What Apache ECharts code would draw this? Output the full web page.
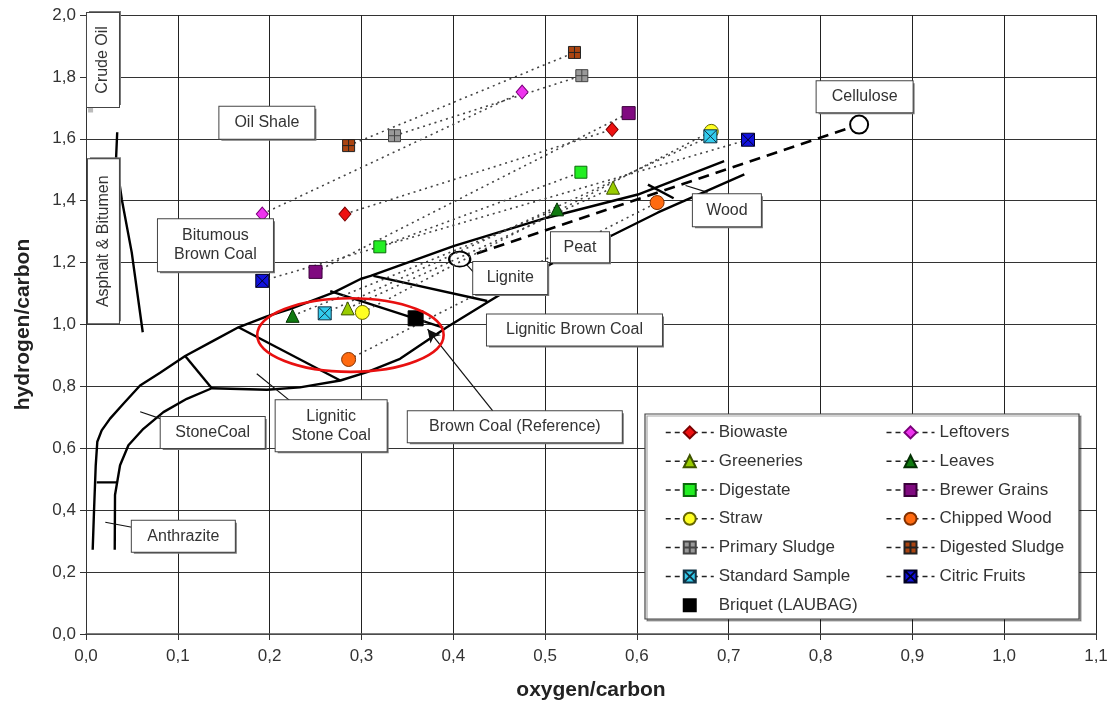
<!DOCTYPE html>
<html><head><meta charset="utf-8">
<script src="https://cdn.jsdelivr.net/npm/echarts@6/dist/echarts.min.js"></script>
<style>html,body{margin:0;padding:0;background:#fff}#c{width:1115px;height:706px}</style>
</head><body><div id="c"></div>
<script>
const FONT = '"Liberation Sans", Arial, sans-serif';

// ---------- tick labels ----------
const xTickLabels = ['0,0','0,1','0,2','0,3','0,4','0,5','0,6','0,7','0,8','0,9','1,0','1,1'];
const yTickLabels = ['0,0','0,2','0,4','0,6','0,8','1,0','1,2','1,4','1,6','1,8','2,0'];

// ---------- material series: [raw-like, treated] points (O/C, H/C) ----------
const seriesNames = ['Biowaste','Leftovers','Greeneries','Leaves','Digestate','Brewer Grains','Straw','Chipped Wood','Primary Sludge','Digested Sludge','Standard Sample','Citric Fruits','Briquet (LAUBAG)'];
const biowaste       = [[0.282,1.357],[0.573,1.630]];
const leftovers      = [[0.192,1.357],[0.475,1.751]];
const greeneries     = [[0.285,1.052],[0.574,1.442]];
const leaves         = [[0.225,1.028],[0.513,1.372]];
const digestate      = [[0.320,1.251],[0.539,1.492]];
const brewerGrains   = [[0.250,1.170],[0.591,1.683]];
const straw          = [[0.301,1.039],[0.681,1.624]];
const chippedWood    = [[0.286,0.887],[0.622,1.394]];
const primarySludge  = [[0.336,1.610],[0.540,1.804]];
const digestedSludge = [[0.286,1.578],[0.532,1.879]];
const standardSample = [[0.260,1.036],[0.680,1.608]];
const citricFruits   = [[0.192,1.141],[0.721,1.597]];
const briquet        = [[0.359,1.020]];

// ---------- reference fuels ----------
const ligniteCellulose = [[0.407,1.211],[0.842,1.646]];

// ---------- coalification band outlines ----------
const outerBoundary = [[0.0073,0.272],[0.0087,0.395],[0.0106,0.545],[0.0123,0.621],[0.0171,0.658],[0.0262,0.696],[0.0407,0.744],[0.0589,0.803],[0.0807,0.844],[0.108,0.898],[0.139,0.948],[0.166,0.991],[0.197,1.026],[0.222,1.050],[0.270,1.104],[0.299,1.147],[0.310,1.157],[0.401,1.254],[0.502,1.345],[0.601,1.420],[0.695,1.528]];
const innerBoundary = [[0.0313,0.272],[0.0316,0.449],[0.0371,0.545],[0.0462,0.610],[0.0625,0.663],[0.0843,0.717],[0.1098,0.760],[0.137,0.794],[0.197,0.789],[0.233,0.797],[0.277,0.819],[0.306,0.846],[0.342,0.889],[0.393,0.991],[0.440,1.077],[0.506,1.195],[0.571,1.285],[0.623,1.362],[0.717,1.485]];
const anthraciteBar = [[0.0117,0.490],[0.034,0.490]];
const stoneCoalDivider = [[0.108,0.898],[0.137,0.794]];
const ligniticStoneDivider = [[0.166,0.991],[0.277,0.819]];
const brownCoalDividerA = [[0.266,1.108],[0.389,0.990]];
const brownCoalDividerB = [[0.313,1.157],[0.437,1.076]];
const peatWoodDivider = [[0.612,1.452],[0.640,1.408]];
const asphaltLine = [[0.034,1.621],[0.0327,1.533],[0.039,1.404],[0.0498,1.233],[0.0618,0.975]];
const crudeOilBar = [[0.005,1.685],[0.005,2.0]];

// ---------- label leaders ----------
const leaders = [
  [[0.059,0.718],[0.081,0.696]],
  [[0.186,0.841],[0.222,0.754]],
  [[0.021,0.361],[0.050,0.345]],
  [[0.411,1.205],[0.422,1.169]],
  [[0.653,1.449],[0.677,1.427]]
];
const brownCoalArrow = [[0.443,0.721],[0.372,0.985]];

// ---------- annotation boxes ----------
const boxNames = ['Crude Oil','Asphalt & Bitumen','Oil Shale','Bitumous\nBrown Coal','Lignite','Peat','Wood','Cellulose','Lignitic Brown Coal','Brown Coal (Reference)','Lignitic\nStone Coal','StoneCoal','Anthrazite'];
const boxAnchors = [[0.0185,1.855],[0.019,1.269],[0.197,1.652],[0.141,1.256],[0.462,1.150],[0.538,1.250],[0.698,1.369],[0.848,1.736],[0.532,0.982],[0.467,0.670],[0.267,0.673],[0.138,0.651],[0.106,0.316]];

// ---------- styles ----------
const boxSizes = [[94,32],[164,31],[95,32],[115,52],[74,32],[58,30],[68,32],[96,31],[175,31],[214,31],[111,51],[104,31],[103,31]];
const boxRotate = [90,90,0,0,0,0,0,0,0,0,0,0,0];

const plusSq = 'path://M0,0H10V10H0Z M5,0V10 M0,5H10';
const crossSq = 'path://M0,0H10V10H0Z M0,0L10,10 M10,0L0,10';
const seriesData = [biowaste,leftovers,greeneries,leaves,digestate,brewerGrains,straw,chippedWood,primarySludge,digestedSludge,standardSample,citricFruits,briquet];
const seriesStyle = [
  {symbol:'diamond', size:[12,14], color:'#ee1111', border:'#7a0000'},
  {symbol:'diamond', size:[12,14], color:'#ee33ee', border:'#7a007a'},
  {symbol:'triangle', size:13, color:'#99cc00', border:'#3f5500'},
  {symbol:'triangle', size:13, color:'#107a10', border:'#053005'},
  {symbol:'rect', size:12, color:'#22ee22', border:'#0a6a0a'},
  {symbol:'rect', size:13, color:'#800a80', border:'#3a003a'},
  {symbol:'circle', size:14, color:'#ffff22', border:'#666600'},
  {symbol:'circle', size:14, color:'#ff6a10', border:'#803000'},
  {symbol:plusSq, size:12, color:'#999999', border:'#444444'},
  {symbol:plusSq, size:12, color:'#aa4411', border:'#222222'},
  {symbol:crossSq, size:13, color:'#33ccee', border:'#113344'},
  {symbol:crossSq, size:13, color:'#1111dd', border:'#000022'},
  {symbol:'rect', size:15, color:'#000000', border:'#000000'}
];

function bandLine(name, data, extra) {
  return Object.assign({
    name, type:'line', data, symbol:'none', silent:true, z:2,
    lineStyle:{color:'#000', width:2.4}, animation:false
  }, extra||{});
}

const series = [];
series.push(bandLine('crude', crudeOilBar, {lineStyle:{color:'#bbb', width:5}}));
[outerBoundary, innerBoundary, anthraciteBar, stoneCoalDivider, ligniticStoneDivider, brownCoalDividerA, brownCoalDividerB, peatWoodDivider, asphaltLine].forEach((d,i)=>series.push(bandLine('band'+i, d)));
leaders.forEach((d,i)=>series.push(bandLine('leader'+i, d, {lineStyle:{color:'#111', width:1.2}})));
series.push({
  name:'arrow', type:'line', data:[], silent:true,
  markLine:{silent:true, symbol:['none','arrow'], symbolSize:[10,13], label:{show:false},
    lineStyle:{color:'#111', width:1.2, type:'solid'},
    data:[[{coord:brownCoalArrow[0]},{coord:brownCoalArrow[1]}]]}
});
series.push({
  name:'ref', type:'line', data:[
    {value:ligniteCellulose[0], symbolSize:[21,15]},
    {value:ligniteCellulose[1], symbolSize:18}
  ], symbol:'emptyCircle', showAllSymbol:true, silent:true, z:3,
  itemStyle:{color:'#000', borderWidth:2},
  lineStyle:{color:'#000', width:2.6, type:[11,7]}
});
seriesNames.forEach((n,i)=>{
  const st = seriesStyle[i];
  series.push({
    name:n, type:'line', data:seriesData[i], z:4,
    symbol:st.symbol, symbolSize:st.size, showAllSymbol:true,
    itemStyle:{color:st.color, borderColor:st.border, borderWidth:1},
    lineStyle:{color:'#444', width:1.6, type:[2,4]}
  });
});
function boxSeries(name, z, shadow) {
  return {
    name, type:'scatter', z, silent:true, symbolSize:1,
    itemStyle:{color:'rgba(0,0,0,0)'},
    emphasis:{disabled:true},
    data: boxNames.map((n,i)=>({
      name:n, value:boxAnchors[i],
      label:{width:boxSizes[i][0], height:boxSizes[i][1], rotate:boxRotate[i]}
    })),
    label: shadow ? {show:true, position:'inside', formatter:'{b}', fontFamily:FONT, fontSize:16, lineHeight:19,
      color:'rgba(0,0,0,0)', align:'center', verticalAlign:'middle', offset:[2,2],
      backgroundColor:'#777', borderWidth:0, opacity:1}
    : {show:true, position:'inside', formatter:'{b}', fontFamily:FONT, fontSize:16, lineHeight:19,
      color:'#333', align:'center', verticalAlign:'middle', opacity:1,
      backgroundColor:'#ffffff', borderColor:'#444', borderWidth:1}
  };
}
series.push(boxSeries('boxShadow', 9, true));
series.push(boxSeries('boxes', 10, false));

const legendData = seriesNames.map(n => n === 'Briquet (LAUBAG)'
  ? {name:n, lineStyle:{opacity:0, color:'rgba(0,0,0,0)'}}
  : {name:n});

const chart = echarts.init(document.getElementById('c'), null, {renderer:'canvas'});
chart.setOption({
  animation:false,
  backgroundColor:'#fff',
  textStyle:{fontFamily:FONT},
  grid:{left:86, right:19, top:15, bottom:70},
  xAxis:{
    type:'value', min:0, max:1.1, interval:0.1,
    name:'oxygen/carbon', nameLocation:'middle', nameGap:46,
    nameTextStyle:{fontFamily:FONT, fontWeight:'bold', fontSize:21, color:'#222'},
    axisLine:{show:true, lineStyle:{color:'#555', width:1.5}},
    axisTick:{show:true, length:6, lineStyle:{color:'#333'}},
    axisLabel:{fontFamily:FONT, fontSize:17, color:'#333', margin:14, formatter:(v,i)=>xTickLabels[i]},
    splitLine:{show:true, lineStyle:{color:'#222', width:1}}
  },
  yAxis:{
    type:'value', min:0, max:2, interval:0.2,
    name:'hydrogen/carbon', nameLocation:'middle', nameGap:52,
    nameTextStyle:{fontFamily:FONT, fontWeight:'bold', fontSize:21, color:'#222'},
    axisLine:{show:true, lineStyle:{color:'#333', width:1}},
    axisTick:{show:true, length:6, lineStyle:{color:'#333'}},
    axisLabel:{fontFamily:FONT, fontSize:17, color:'#333', margin:10, formatter:(v,i)=>yTickLabels[i]},
    splitLine:{show:true, lineStyle:{color:'#333', width:1.2}}
  },
  legend:{
    data:legendData, left:660, top:418, width:460, orient:'horizontal', z:20,
    itemWidth:48, itemHeight:15, itemGap:10, selectedMode:false,
    lineStyle:{type:[5,4], width:1.5, color:'#222'},
    textStyle:{fontFamily:FONT, fontSize:17, color:'#333', width:157, lineHeight:18.8}
  },
  series
});

// overlay graphics placed via data coordinates
const c = chart.convertToPixel({gridIndex:0}, [0.288, 0.966]);
const ex = chart.convertToPixel({gridIndex:0}, [0.288+0.1015, 0.966]);
const ey = chart.convertToPixel({gridIndex:0}, [0.288, 0.966+0.119]);
chart.setOption({
  graphic:[
    {type:'ellipse', z:6, silent:true,
     shape:{cx:c[0], cy:c[1], rx:Math.abs(ex[0]-c[0]), ry:Math.abs(c[1]-ey[1])},
     style:{fill:'none', stroke:'#e81010', lineWidth:2.6}},
    {type:'rect', z:15, silent:true,
     shape:{x:645, y:414, width:434, height:205},
     style:{fill:'#fff', stroke:'#444', lineWidth:1.2, shadowColor:'rgba(0,0,0,0.35)', shadowOffsetX:2, shadowOffsetY:2}}
  ]
});
</script></body></html>
